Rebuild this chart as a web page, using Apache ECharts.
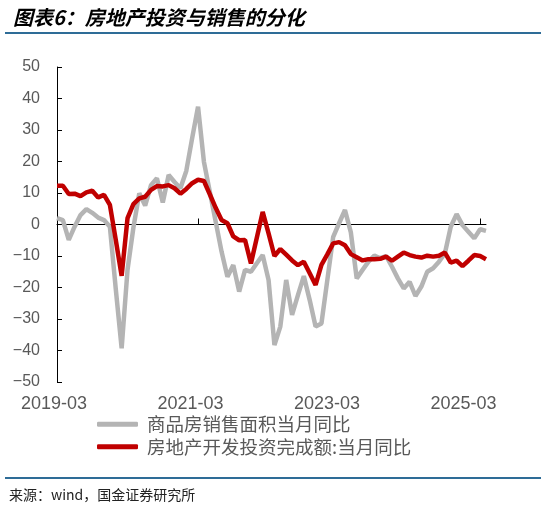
<!DOCTYPE html>
<html>
<head>
<meta charset="utf-8">
<script src="https://cdn.jsdelivr.net/npm/echarts@6.0.0/dist/echarts.min.js"></script>
<style>
  html, body { margin: 0; padding: 0; background: #fff; }
  #chart { width: 541px; height: 509px; }
</style>
</head>
<body>
<div id="chart"></div>
<script>
;(function () {
  'use strict';

  // months 2019-03 .. 2025-04
  var months = [];
  for (var y = 2019, m = 3; y < 2025 || (y === 2025 && m <= 4); m++) {
    if (m > 12) { m = 1; y++; }
    months.push(y + '-' + (m < 10 ? '0' + m : m));
  }

  var tickLabels = ['2019-03', '2021-03', '2023-03', '2025-03'];

  // 商品房销售面积:当月同比 (%)
  var salesArea = [
    2.0, 1.4, -4.9, -0.7, 3.0, 4.9, 3.7, 2.2, 1.4, -0.7,
    -20.5, -39.3, -14.4, -1.0, 9.9, 6.0, 12.5, 14.7, 7.0, 15.7,
    13.5, 11.5, 17.0, 27.4, 37.4, 19.9, 10.4, 0.9, -8.6, -16.6,
    -12.9, -21.3, -14.4, -15.0, -12.3, -9.7, -17.6, -38.3, -32.4, -17.6,
    -28.7, -22.4, -16.4, -24.0, -32.4, -31.4, -17.6, -3.9, 0.4, 4.6,
    -2.5, -17.1, -14.4, -11.8, -9.9, -10.7, -10.0, -13.4, -17.1, -20.3,
    -18.2, -22.7, -19.7, -15.0, -13.9, -11.8, -9.2, -0.7, 3.3, -0.2,
    -2.3, -4.4, -1.5, -2.0
  ];

  // 房地产开发投资完成额:当月同比 (%)
  var investment = [
    12.3, 12.3, 9.7, 9.8, 9.0, 10.2, 10.7, 8.6, 9.4, 6.2,
    -4.9, -16.3, 2.0, 6.5, 8.3, 8.8, 11.0, 12.2, 12.1, 12.5,
    11.5, 9.8, 11.3, 13.1, 14.2, 13.8, 9.6, 5.3, 1.4, 0.4,
    -3.8, -5.0, -4.9, -12.4, -4.2, 4.0, -2.8, -10.0, -7.8, -9.6,
    -11.4, -12.9, -11.8, -15.5, -19.2, -12.8, -9.5, -6.0, -5.6, -6.6,
    -9.4, -10.4, -11.4, -11.0, -11.0, -10.9, -10.2, -11.5, -10.2, -8.9,
    -9.7, -10.2, -10.5, -9.9, -10.2, -9.9, -8.9, -12.1, -11.5, -13.2,
    -11.5, -9.7, -10.0, -11.0
  ];

  var numFont = '"Liberation Sans", Arial, sans-serif';
  var cjkFont = '"Noto Sans CJK SC", sans-serif';
  var rule = '#2e6c97';

  var chart = echarts.init(document.getElementById('chart'));

  chart.setOption({
    animation: false,
    backgroundColor: '#fff',
    title: {
      text: '图表6：房地产投资与销售的分化',
      left: 8,
      top: 2,
      textStyle: {
        fontFamily: cjkFont,
        fontSize: 20,
        fontWeight: 'bold',
        fontStyle: 'italic',
        color: '#000'
      }
    },
    legend: {
      orient: 'vertical',
      left: 92,
      top: 410,
      itemWidth: 41,
      itemHeight: 5,
      itemGap: 4,
      icon: 'roundRect',
      textStyle: {
        fontFamily: cjkFont,
        fontSize: 18.5,
        color: '#595959',
        padding: [0, 0, 0, 4]
      },
      data: ['商品房销售面积当月同比', '房地产开发投资完成额:当月同比']
    },
    grid: [
      { left: 57, right: 55, top: 67, bottom: 127 },
      { left: 54, width: 409.5, top: 67, bottom: 127 }
    ],
    xAxis: [
      {
        type: 'category',
        gridIndex: 0,
        data: months,
        boundaryGap: false,
        axisLine: { onZero: true, lineStyle: { color: '#000', width: 1 } },
        axisTick: { inside: true, length: 6, interval: 23, lineStyle: { color: '#000' } },
        axisLabel: { show: false },
        splitLine: { show: false }
      },
      {
        type: 'value',
        gridIndex: 1,
        min: 0,
        max: 72,
        interval: 24,
        axisLine: { show: false },
        axisTick: { show: false },
        splitLine: { show: false },
        axisLabel: {
          margin: 13,
          fontFamily: numFont,
          fontSize: 18,
          color: '#595959',
          formatter: function (v) { return tickLabels[v / 24]; }
        }
      }
    ],
    yAxis: [
      {
        type: 'value',
        gridIndex: 0,
        min: -50,
        max: 50,
        interval: 10,
        axisLine: { show: true, lineStyle: { color: '#000', width: 1 } },
        axisTick: { show: true, inside: true, length: 5, lineStyle: { color: '#000' } },
        splitLine: { show: false },
        axisLabel: {
          margin: 17,
          fontFamily: numFont,
          fontSize: 16,
          color: '#595959',
          formatter: function (v) { return String(v).replace('-', '\u2212'); }
        }
      },
      {
        type: 'value',
        gridIndex: 1,
        show: false
      }
    ],
    series: [
      {
        name: '商品房销售面积当月同比',
        type: 'line',
        data: salesArea,
        color: '#b4b4b4',
        showSymbol: false,
        lineStyle: { width: 4.5, color: '#b4b4b4' }
      },
      {
        name: '房地产开发投资完成额:当月同比',
        type: 'line',
        data: investment,
        color: '#c00000',
        showSymbol: false,
        lineStyle: { width: 4.5, color: '#c00000' }
      }
    ],
    graphic: [
      {
        type: 'line',
        shape: { x1: 5, y1: 33, x2: 541, y2: 33 },
        style: { stroke: rule, lineWidth: 2 }
      },
      {
        type: 'line',
        shape: { x1: 5, y1: 478, x2: 541, y2: 478 },
        style: { stroke: rule, lineWidth: 2 }
      },
      {
        type: 'text',
        left: 9,
        top: 488,
        style: {
          text: '来源：wind，国金证券研究所',
          fontFamily: cjkFont,
          fontSize: 14,
          fill: '#222'
        }
      }
    ]
  });

  window.addEventListener('resize', function () {
    chart.resize();
  });
})();
</script>
</body>
</html>
